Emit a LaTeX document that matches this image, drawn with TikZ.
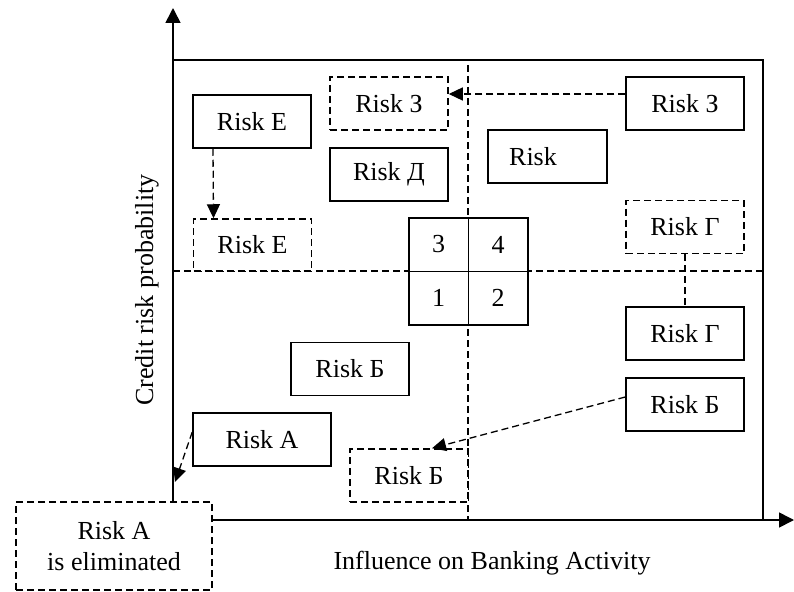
\documentclass[tikz,border=0pt]{standalone}
\usepackage{fontspec}
\setmainfont{Liberation Serif}
\usetikzlibrary{arrows.meta}
\begin{document}
\begin{tikzpicture}[x=1pt,y=-1pt,
 every node/.style={font=\fontsize{26}{31}\selectfont},
 solidbox/.style={draw, line width=1.5pt, minimum width=118pt, minimum height=53pt, inner sep=0pt, fill=white},
 dashbox/.style={solidbox, dash pattern=on 7pt off 4pt},
 dline/.style={line width=1.3pt, dash pattern=on 7pt off 4pt},
 harrow/.style={dline, -{Triangle[length=14pt,width=13pt]}},
 axisline/.style={line width=1.6pt, -{Triangle[length=15pt,width=15pt]}},
 cell/.style={draw, line width=1.5pt, minimum width=59.5pt, minimum height=53.5pt, inner sep=0pt, fill=white}]
\useasboundingbox (0,0) rectangle (794,591);
% axes
\coordinate (O) at (173,520);
\coordinate (Ytip) at (173,8);
\coordinate (Xtip) at (794,520);
\draw[axisline] (O) -- (Ytip);
\draw[axisline] (O) -- (Xtip);
% frame
\draw[line width=1.5pt] (173,60) -- (763,60) -- (763,520);
% dividers
\draw[dline] (468,65) -- (468,520);
\draw[dline] (173,271) -- (763,271);
% quadrant cells
\node[cell] (c3) at (438.5,244.5) {3};
\node[cell] (c4) at (498,244.5) {4};
\node[cell] (c1) at (438.5,298) {1};
\node[cell] (c2) at (498,298) {2};
% boxes
\node[solidbox] (EE) at (252,121.5) {Risk Е};
\node[dashbox, minimum height=52pt] (EEd) at (252.5,245) {Risk Е};
\node[dashbox] (Z1) at (389,103.5) {Risk З};
\node[solidbox] (D) at (389,174.5) {Risk Д};
\node[solidbox] (Z2) at (685,103.5) {Risk З};
\node[solidbox, minimum width=119pt] (V) at (547.5,156.5) {Risk\rule{29pt}{0pt}};
\node[dashbox] (G1) at (685,227) {Risk Г};
\node[solidbox] (G2) at (685,333.5) {Risk Г};
\node[solidbox] (B2) at (685,404.5) {Risk Б};
\node[solidbox] (B1) at (350,369) {Risk Б};
\node[dashbox] (B3) at (409,475.5) {Risk Б};
\node[solidbox, minimum width=138pt] (A) at (262,439.5) {Risk А};
\node[dashbox, minimum width=196pt, minimum height=88pt, align=center] (Ael) at (114,546) {Risk A\\is eliminated};
% connectors
\coordinate (Aend) at (175,482);
\draw[harrow] ([xshift=-39pt]EE.south) -- ([xshift=-39pt]EEd.north);
\draw[harrow] ([yshift=9.5pt]Z2.west) -- ([yshift=9.5pt]Z1.east);
\draw[dline] (G1.south) -- (G2.north);
\draw[harrow] ([yshift=7.5pt]B2.west) -- ([xshift=23pt]B3.north);
\draw[harrow] ([yshift=7.5pt]A.west) -- (Aend);
% axis labels
\node[rotate=90] (ylab) at (147,290) {Credit risk probability};
\node (xlab) at (492,563) {Influence on Banking Activity};
\end{tikzpicture}
\end{document}
